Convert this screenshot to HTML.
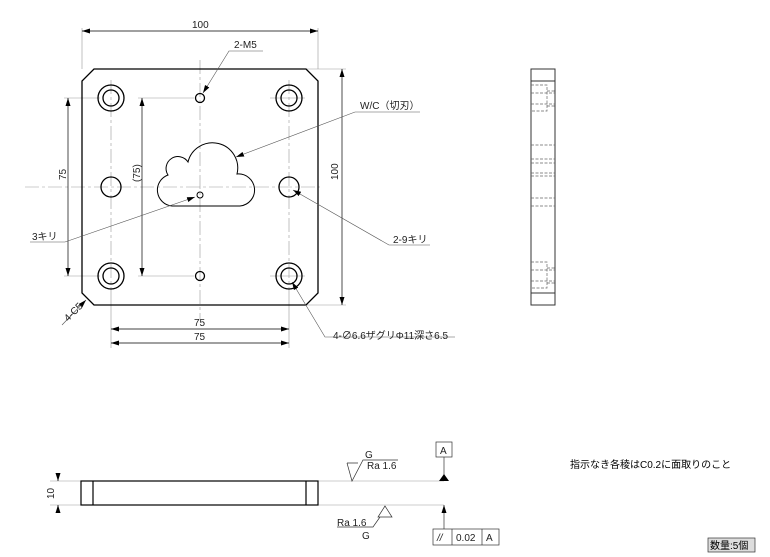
<!DOCTYPE html>
<html><head><meta charset="utf-8"><style>
html,body{margin:0;padding:0;background:#fff;}
svg{display:block;font-family:"Liberation Sans","Noto Sans CJK JP",sans-serif;}
</style></head><body>
<svg width="770" height="557" viewBox="0 0 770 557" xmlns="http://www.w3.org/2000/svg">
<defs>
<marker id="ar" markerWidth="8" markerHeight="6" refX="8" refY="3" orient="auto-start-reverse" markerUnits="userSpaceOnUse"><path d="M0,0.5 L8,3 L0,5.5 Z" fill="#000"/></marker>
</defs>
<g fill="none" stroke="#999" stroke-width="0.6">
<line x1="82" y1="28" x2="82" y2="69"/><line x1="318" y1="28" x2="318" y2="69"/>
<line x1="306" y1="69" x2="346" y2="69"/><line x1="306" y1="305" x2="346" y2="305"/>
<line x1="64" y1="98" x2="100" y2="98"/><line x1="64" y1="276" x2="100" y2="276"/>
<line x1="138" y1="98" x2="194" y2="98"/><line x1="138" y1="276" x2="194" y2="276"/>
<line x1="111" y1="290" x2="111" y2="348"/><line x1="289" y1="290" x2="289" y2="348"/>
<line x1="200" y1="60" x2="200" y2="320" stroke-dasharray="14,3,3,3"/>
<line x1="25" y1="187" x2="320" y2="187" stroke-dasharray="14,3,3,3"/>
<line x1="111" y1="80" x2="111" y2="290" stroke-dasharray="14,3,3,3"/>
<line x1="289" y1="80" x2="289" y2="290" stroke-dasharray="14,3,3,3"/>
<line x1="270" y1="98" x2="305" y2="98"/><line x1="270" y1="276" x2="305" y2="276"/>
</g>
<g stroke="#000" stroke-width="0.7" fill="none">
<line x1="82" y1="31" x2="318" y2="31" marker-start="url(#ar)" marker-end="url(#ar)"/>
<line x1="342" y1="69" x2="342" y2="305" marker-start="url(#ar)" marker-end="url(#ar)"/>
<line x1="68" y1="98" x2="68" y2="276" marker-start="url(#ar)" marker-end="url(#ar)"/>
<line x1="142" y1="98" x2="142" y2="276" marker-start="url(#ar)" marker-end="url(#ar)"/>
<line x1="111" y1="329" x2="289" y2="329" marker-start="url(#ar)" marker-end="url(#ar)"/>
<line x1="111" y1="343" x2="289" y2="343" marker-start="url(#ar)" marker-end="url(#ar)"/>
</g>
<g stroke="#000" stroke-width="1.3" fill="none">
<path d="M94,69 L306,69 L318,81 L318,293 L306,305 L94,305 L82,293 L82,81 Z"/>
<circle cx="111" cy="98" r="13"/><circle cx="111" cy="98" r="8"/>
<circle cx="289" cy="98" r="13"/><circle cx="289" cy="98" r="8"/>
<circle cx="111" cy="276" r="13"/><circle cx="111" cy="276" r="8"/>
<circle cx="289" cy="276" r="13"/><circle cx="289" cy="276" r="8"/>
<circle cx="111" cy="187" r="10"/><circle cx="289" cy="187" r="10"/>
<circle cx="200" cy="98" r="4.5"/><circle cx="200" cy="276" r="4.5"/>
<circle cx="200" cy="195" r="3" stroke-width="1"/>
<path d="M172,206 L240,206 A16,16 0 0 0 237,174 A25,25 0 0 0 188,162 A10,10 0 0 0 168,175 A16,16 0 0 0 172,206 Z" stroke-width="1"/>
</g>
<g stroke="#555" stroke-width="0.6" fill="none">
<polyline points="263,51 229,51 203,93" marker-end="url(#ar)"/>
<polyline points="420,112 355,112 236,157" marker-end="url(#ar)"/>
<polyline points="30,242 65,242 195,197" marker-end="url(#ar)"/>
<polyline points="430,245 389,245 293,190" marker-end="url(#ar)"/>
<polyline points="455,337 325,337 292,282" marker-end="url(#ar)"/>
<polyline points="62,325 86,300" marker-end="url(#ar)"/>
</g>
<g font-size="10" fill="#222">
<text x="192" y="28">100</text>
<text x="234" y="48">2-M5</text>
<text x="360" y="109">W/C（切刃）</text>
<text x="32" y="240">3キリ</text>
<text x="393" y="243">2-9キリ</text>
<text x="333" y="339">4-∅6.6ザグリΦ11深さ6.5</text>
<text x="194" y="326">75</text>
<text x="194" y="340">75</text>
<text transform="translate(338,180) rotate(-90)">100</text>
<text transform="translate(66,180) rotate(-90)">75</text>
<text transform="translate(140,182) rotate(-90)">(75)</text>
<text transform="translate(68,322) rotate(-45)">4-C5</text>
<text transform="translate(54,499) rotate(-90)">10</text>
</g>
<g stroke="#333" stroke-width="1" fill="none">
<rect x="531" y="69" width="24" height="236"/>
<line x1="531" y1="81" x2="555" y2="81"/><line x1="531" y1="293" x2="555" y2="293"/>
</g>
<g stroke="#666" stroke-width="0.7" fill="none" stroke-dasharray="3,1.5">
<polyline points="531,85 547,85 547,111 531,111"/>
<line x1="531" y1="93" x2="555" y2="93"/><line x1="531" y1="104" x2="555" y2="104"/>
<line x1="547" y1="91" x2="555" y2="91"/><line x1="547" y1="106" x2="555" y2="106"/>
<line x1="531" y1="145" x2="555" y2="145"/><line x1="531" y1="159" x2="555" y2="159"/>
<line x1="531" y1="163" x2="555" y2="163"/><line x1="531" y1="173" x2="555" y2="173"/>
<line x1="531" y1="176" x2="555" y2="176"/><line x1="531" y1="198" x2="555" y2="198"/>
<line x1="531" y1="206" x2="555" y2="206"/>
<polyline points="531,262 547,262 547,288 531,288"/>
<line x1="531" y1="270" x2="555" y2="270"/><line x1="531" y1="281" x2="555" y2="281"/>
<line x1="547" y1="268" x2="555" y2="268"/><line x1="547" y1="283" x2="555" y2="283"/>
</g>
<g stroke="#999" stroke-width="0.6" fill="none">
<line x1="50" y1="481" x2="81" y2="481"/><line x1="50" y1="505" x2="81" y2="505"/>
<line x1="318" y1="481" x2="444" y2="481"/><line x1="318" y1="505" x2="444" y2="505"/>
</g>
<line x1="58" y1="473" x2="58" y2="481" stroke="#000" stroke-width="0.7" marker-end="url(#ar)"/>
<line x1="58" y1="513" x2="58" y2="505" stroke="#000" stroke-width="0.7" marker-end="url(#ar)"/>
<g stroke="#000" stroke-width="1.2" fill="none">
<rect x="81" y="481" width="237" height="24"/>
<line x1="93" y1="481" x2="93" y2="505"/><line x1="306" y1="481" x2="306" y2="505"/>
</g>
<g stroke="#333" stroke-width="0.7" fill="none">
<path d="M347,463 L358,463 M347,463 L352,481 L363,460 L398,460"/>
<path d="M385,506 L378,517 L392,517 Z M380,517 L373,527 L337,527"/>
<rect x="436" y="442" width="16" height="15"/>
<line x1="444" y1="457" x2="444" y2="475"/>
<line x1="444" y1="505" x2="444" y2="529" marker-start="url(#ar)"/>
<rect x="433" y="529" width="66" height="16"/>
<line x1="452" y1="529" x2="452" y2="545"/><line x1="482" y1="529" x2="482" y2="545"/>
</g>
<path d="M439,481 L449,481 L444,474 Z" fill="#000"/>
<g font-size="10" fill="#222">
<text x="365" y="458">G</text>
<text x="367" y="469">Ra  1.6</text>
<text x="337" y="526">Ra  1.6</text>
<text x="362" y="539">G</text>
<text x="440" y="454">A</text>
<text x="437" y="541" font-style="italic">//</text>
<text x="456" y="541">0.02</text>
<text x="486" y="541">A</text>
</g>
<text x="570" y="468" font-size="10" fill="#000">指示なき各稜はC0.2に面取りのこと</text>
<rect x="708" y="538" width="47" height="14" fill="#ddd" stroke="#333" stroke-width="0.7"/>
<text x="710" y="549" font-size="10" fill="#000">数量:5個</text>
</svg>
</body></html>
